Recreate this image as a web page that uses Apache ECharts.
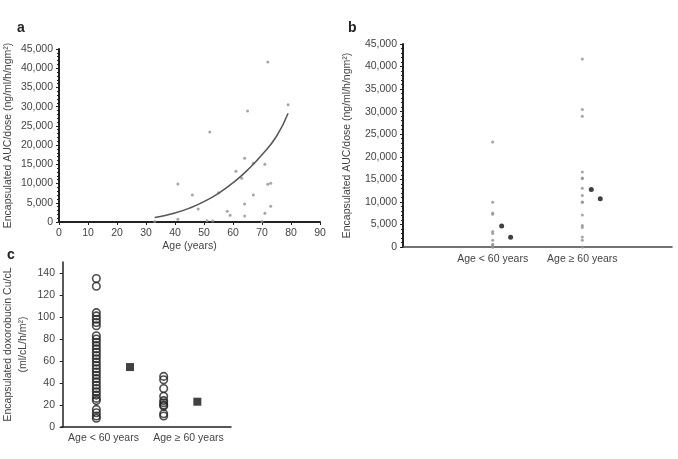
<!DOCTYPE html>
<html>
<head>
<meta charset="utf-8">
<title>Encapsulated AUC by age</title>
<script src="https://cdn.jsdelivr.net/npm/echarts@6/dist/echarts.min.js"></script>
<style>
  html, body { margin: 0; padding: 0; background: #fff; }
  #chart { width: 678px; height: 459px; }
</style>
</head>
<body>
<div id="chart"></div>
<script>
// panel a: age vs encapsulated AUC/dose
var agesA = [72, 79, 65, 52, 64, 61, 63, 67, 71, 72, 73, 41, 46, 55, 67, 48, 64, 73, 58, 59, 64, 71, 41, 51, 53, 33, 70];
var aucA = [41600, 30500, 28900, 23400, 16600, 13200, 11400, 15300, 15000, 9800, 10100, 9900, 7050, 7600, 7050, 3400, 4700, 4100, 2800, 1750, 1550, 2250, 700, 300, 250, 100, 150];
// trend curve
var trendAges = [33, 35, 40, 45, 50, 55, 60, 65, 70, 75, 79];
var trendAuc = [1150, 1420, 2330, 3610, 5300, 7470, 10200, 13500, 17500, 22300, 28300];

// panel b: the same values split by age group
var groupLabels = ['Age < 60 years', 'Age \u2265 60 years'];
var aucUnder60 = [23300, 9900, 7550, 7270, 3420, 2980, 1490, 600, 300, 0, 0];
var aucOver60 = [41700, 30500, 29000, 16600, 15300, 15200, 13000, 11400, 10000, 9900, 7100, 4750, 4300, 2200, 1500, 0];
var aucMarkA = [4670, 12750];
var aucMarkB = [2160, 10670];

// panel c: doxorubicin Cu/cL
var cuUnder60 = [135, 128, 104, 101, 98, 95, 92, 83, 80, 77, 74, 71, 68, 65, 62, 59, 56, 53, 50, 47, 44, 41, 38, 35, 32, 29, 26, 24, 16, 13, 10, 8];
var cuOver60 = [46, 43, 35, 28, 24, 22, 20, 19, 12, 10];
var cuMeans = [54.5, 23];

var textColor = '#444';
var font = 'Liberation Sans, Arial, sans-serif';

function thousands(v) {
  return v.toLocaleString('en-US');
}

function yAxisBase(gridIndex) {
  return {
    type: 'value',
    gridIndex: gridIndex,
    min: 0,
    axisLine: { show: true, lineStyle: { color: '#222', width: 2 } },
    axisTick: { show: true, length: 3, lineStyle: { color: '#222' } },
    axisLabel: { color: textColor, fontSize: 10.5, fontFamily: font, margin: 6 },
    splitLine: { show: false },
    nameLocation: 'middle',
    nameTextStyle: { color: textColor, fontSize: 10.5, fontFamily: font }
  };
}

var aY = yAxisBase(0);
aY.max = 45000;
aY.interval = 5000;
aY.axisLabel.formatter = thousands;
aY.minorTick = { show: true, splitNumber: 5, length: 2, lineStyle: { color: '#222' } };
aY.name = 'Encapsulated AUC/dose (ng/ml/h/ngm\u00b2)';
aY.nameGap = 45;

var bY = yAxisBase(1);
bY.max = 45000;
bY.interval = 5000;
bY.axisLabel.formatter = thousands;
bY.minorTick = { show: true, splitNumber: 5, length: 2, lineStyle: { color: '#222' } };
bY.name = 'Encapsulated AUC/dose (ng/ml/h/ngm\u00b2)';
bY.nameGap = 50;

var cY = yAxisBase(2);
cY.max = 150;
cY.interval = 20;
cY.axisLabel.showMaxLabel = false;
cY.axisLine.lineStyle.width = 1.5;
cY.name = 'Encapsulated doxorobucin Cu/cL\n(ml/cL/h/m\u00b2)';
cY.nameGap = 30;
cY.nameTextStyle.lineHeight = 15;

var letterStyle = { fontSize: 14, fontWeight: 'bold', color: '#222', fontFamily: font };

var option = {
  animation: false,
  backgroundColor: '#fff',
  title: [
    { text: 'a', left: 12, top: 16, textStyle: letterStyle },
    { text: 'b', left: 343, top: 16, textStyle: letterStyle },
    { text: 'c', left: 2, top: 243, textStyle: letterStyle }
  ],
  grid: [
    { left: 59, top: 49, width: 261, height: 173 },
    { left: 403, top: 44, width: 269, height: 203 },
    { left: 61, top: 262, width: 170, height: 165 }
  ],
  xAxis: [
    {
      type: 'value', gridIndex: 0, min: 0, max: 90, interval: 10,
      axisLine: { show: true, lineStyle: { color: '#222', width: 2 } },
      axisTick: { show: true, length: 3, lineStyle: { color: '#222' } },
      axisLabel: { color: textColor, fontSize: 10.5, fontFamily: font, margin: 6 },
      splitLine: { show: false },
      name: 'Age (years)', nameLocation: 'middle', nameGap: 19,
      nameTextStyle: { color: textColor, fontSize: 10.5, fontFamily: font }
    },
    {
      type: 'value', gridIndex: 1, min: 0, max: 3, interval: 1,
      axisLine: { show: true, lineStyle: { color: '#444', width: 1.5 } },
      axisTick: { show: false },
      axisLabel: {
        color: textColor, fontSize: 10.5, fontFamily: font, margin: 7,
        formatter: function (v) { return groupLabels[v - 1] || ''; }
      },
      splitLine: { show: false }
    },
    // hidden axis that places the dots of panel c
    { type: 'value', gridIndex: 2, position: 'top', min: -0.05, max: 5, show: false },
    {
      type: 'category', gridIndex: 2, position: 'bottom', data: groupLabels,
      axisLine: { show: true, lineStyle: { color: '#222', width: 1.5 } },
      axisTick: { show: false },
      axisLabel: { interval: 0, color: textColor, fontSize: 10.5, fontFamily: font, margin: 6 },
      splitLine: { show: false }
    }
  ],
  yAxis: [aY, bY, cY],
  series: [
    {
      type: 'scatter', xAxisIndex: 0, yAxisIndex: 0,
      symbolSize: 3, itemStyle: { color: '#8f8f8f' },
      data: agesA.map(function (a, i) { return [a, aucA[i]]; })
    },
    {
      type: 'line', xAxisIndex: 0, yAxisIndex: 0,
      smooth: true, showSymbol: false,
      lineStyle: { color: '#555', width: 1.5 },
      data: trendAges.map(function (a, i) { return [a, trendAuc[i]]; })
    },
    {
      type: 'scatter', xAxisIndex: 1, yAxisIndex: 1,
      symbolSize: 3, itemStyle: { color: '#8f8f8f' },
      data: aucUnder60.map(function (v) { return [1, v]; })
        .concat(aucOver60.map(function (v) { return [2, v]; }))
    },
    {
      type: 'scatter', xAxisIndex: 1, yAxisIndex: 1,
      symbolSize: 5, itemStyle: { color: '#111' },
      data: aucMarkA.map(function (v, i) { return [i + 1.1, v]; })
        .concat(aucMarkB.map(function (v, i) { return [i + 1.2, v]; }))
    },
    {
      type: 'scatter', xAxisIndex: 2, yAxisIndex: 2,
      symbol: 'circle', symbolSize: 7.5,
      itemStyle: { color: 'rgba(0,0,0,0)', borderColor: '#222', borderWidth: 1.6 },
      data: cuUnder60.map(function (v) { return [1, v]; })
        .concat(cuOver60.map(function (v) { return [3, v]; }))
    },
    {
      type: 'scatter', xAxisIndex: 2, yAxisIndex: 2,
      symbol: 'rect', symbolSize: 8, itemStyle: { color: '#111' },
      data: cuMeans.map(function (v, i) { return [2 * i + 2, v]; })
    }
  ]
};

var myChart = echarts.init(document.getElementById('chart'));
myChart.setOption(option);
</script>
</body>
</html>
